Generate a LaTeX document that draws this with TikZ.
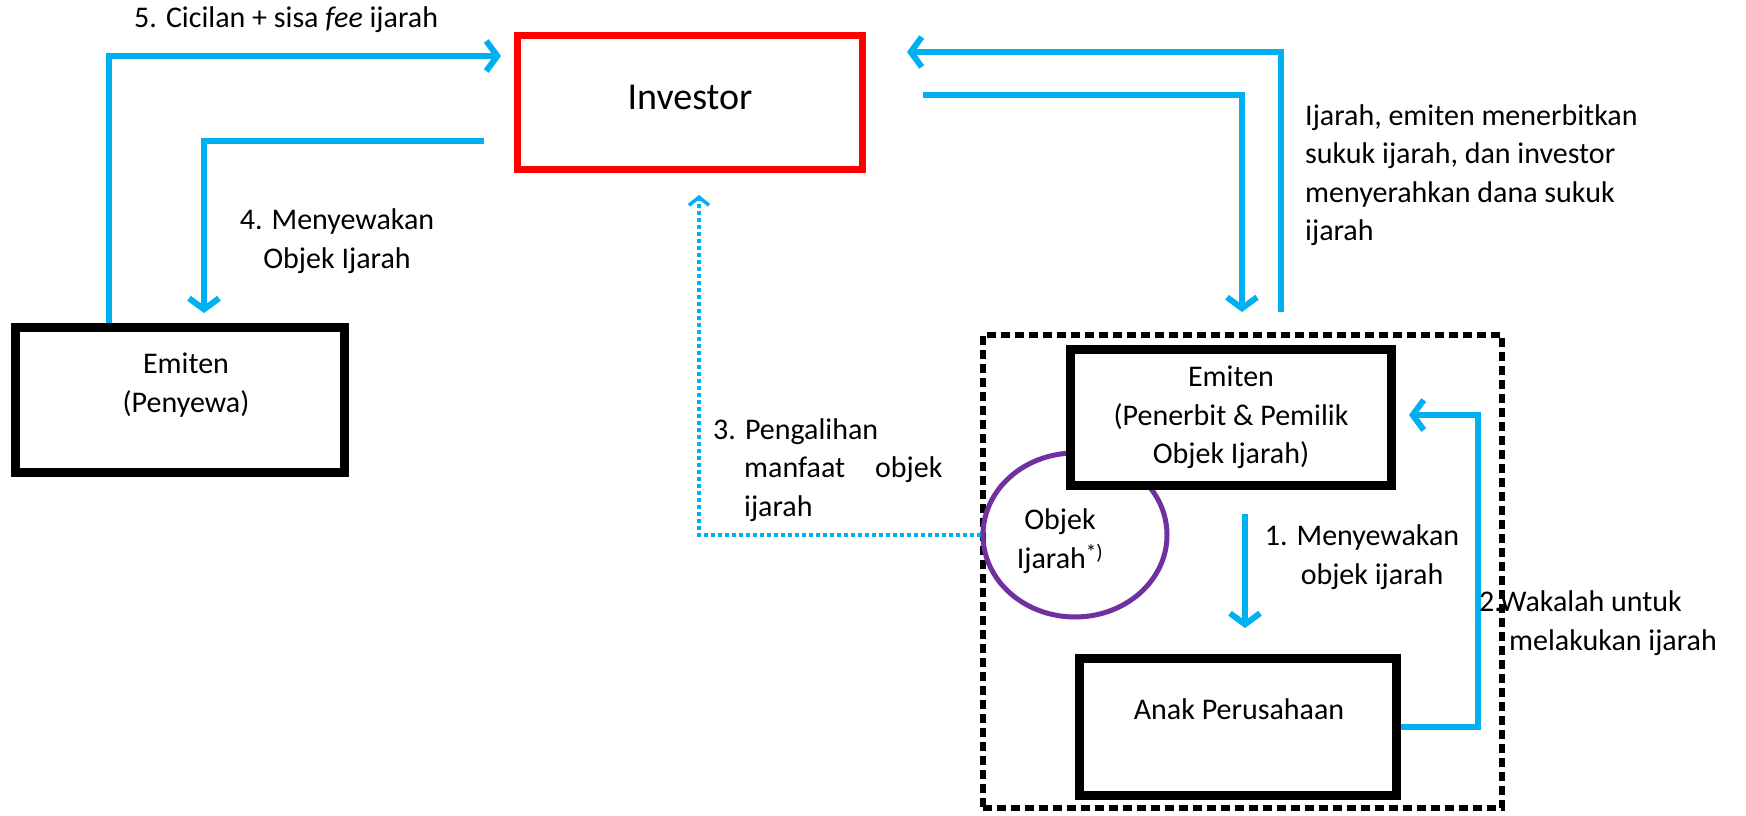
\documentclass[tikz,border=0pt]{standalone}
\usepackage{fontspec}
\setmainfont{Carlito}
\usetikzlibrary{arrows.meta,shapes.geometric,calc}
\definecolor{skyb}{HTML}{00B0F0}
\definecolor{purp}{HTML}{7030A0}
\begin{document}
\begin{tikzpicture}[x=1pt,y=-1pt,
  every node/.style={font=\fontsize{30}{38.5}\selectfont, inner sep=0pt},
  box/.style={draw=black, line width=9pt, fill=white, minimum width=#1},
  flow/.style={draw=skyb, line width=6pt, -{Straight Barb[length=11pt,width=30pt]}},
  dotflow/.style={draw=skyb, line width=3.5pt, dash pattern=on 4pt off 3pt, -{Straight Barb[length=8pt,width=20pt]}},
  lbl/.style={text=black}
]
\useasboundingbox[fill=white] (0,0) rectangle (1746,816);

% boxes
\node[draw=red, line width=7pt, minimum width=345pt, minimum height=134pt] (inv) at (690,102.5) {};
\node[font=\fontsize{38}{44}\selectfont] (invt) at (690,97) {Investor};

\node[box=329pt, minimum height=145pt] (pen) at (180,400) {};
\node[align=center] (pent) at (186,385) {Emiten\\(Penyewa)};

\node[draw=black, line width=6pt, dash pattern=on 9pt off 5pt, minimum width=519pt, minimum height=473pt] (dash) at (1242.5,571.5) {};

\node[ellipse, draw=purp, line width=5pt, minimum width=184pt, minimum height=164pt] (obj) at (1075,535) {};
\node[align=center] (objt) at (1060,541) {Objek\\Ijarah\textsuperscript{*)}};

\node[box=321pt, minimum height=136pt, align=center] (em) at (1231,417.5) {Emiten\\(Penerbit \& Pemilik\\Objek Ijarah)};

\node[box=317pt, minimum height=137pt] (anak) at (1238,727) {};
\node (anakt) at (1239,709) {Anak Perusahaan};

% helper coordinates
\coordinate (c5) at (109,56);
\coordinate (c4) at (204,141);
\coordinate (cA) at (1281,52);
\coordinate (cB) at (1242,95);
\coordinate (c3) at (699,535);
\coordinate (c1) at (1245,510);
\coordinate (c2a) at (1478,727);
\coordinate (c2b) at (1478,415);

% connectors
\draw[flow] (pen.north -| c5) |- ([xshift=-13pt]inv.west |- c5);
\draw[flow] ([xshift=-30pt]inv.west |- c4) -| ([yshift=10pt]pen.north -| c4);
\draw[flow] ([yshift=20pt]dash.north -| cA) |- ([xshift=41pt]inv.east |- cA);
\draw[flow] ([xshift=57pt]inv.east |- cB) -| ([yshift=20pt]dash.north -| cB);
\draw[dotflow] (obj.west) -| ([yshift=-22pt]inv.south -| c3);
\draw[flow] ([yshift=-24pt]em.south -| c1) -- ([yshift=26pt]anak.north -| c1);
\draw[flow] (anak.east |- c2a) -| (c2a) -- (c2b) -- ([xshift=13pt]em.east |- c2b);

% labels
\node[anchor=west] (l5) at (134,20) {5. Cicilan + sisa \textit{fee} ijarah};
\node[align=center] (l4) at (337,241) {4. Menyewakan\\Objek Ijarah};
\node[anchor=west, align=left] (lA) at (1305,175) {Ijarah, emiten menerbitkan\\sukuk ijarah, dan investor\\menyerahkan dana sukuk\\ijarah};
\node[anchor=west, align=left] (l3) at (713,470) {3. Pengalihan\\\hspace*{31pt}manfaat\quad objek\\\hspace*{31pt}ijarah};
\node[align=center] (l1) at (1362,557) {1. Menyewakan\\\hspace*{20pt}objek ijarah};
\node[anchor=west, align=left] (l2) at (1479,623) {2.Wakalah untuk\\\hspace*{30pt}melakukan ijarah};
\end{tikzpicture}
\end{document}
